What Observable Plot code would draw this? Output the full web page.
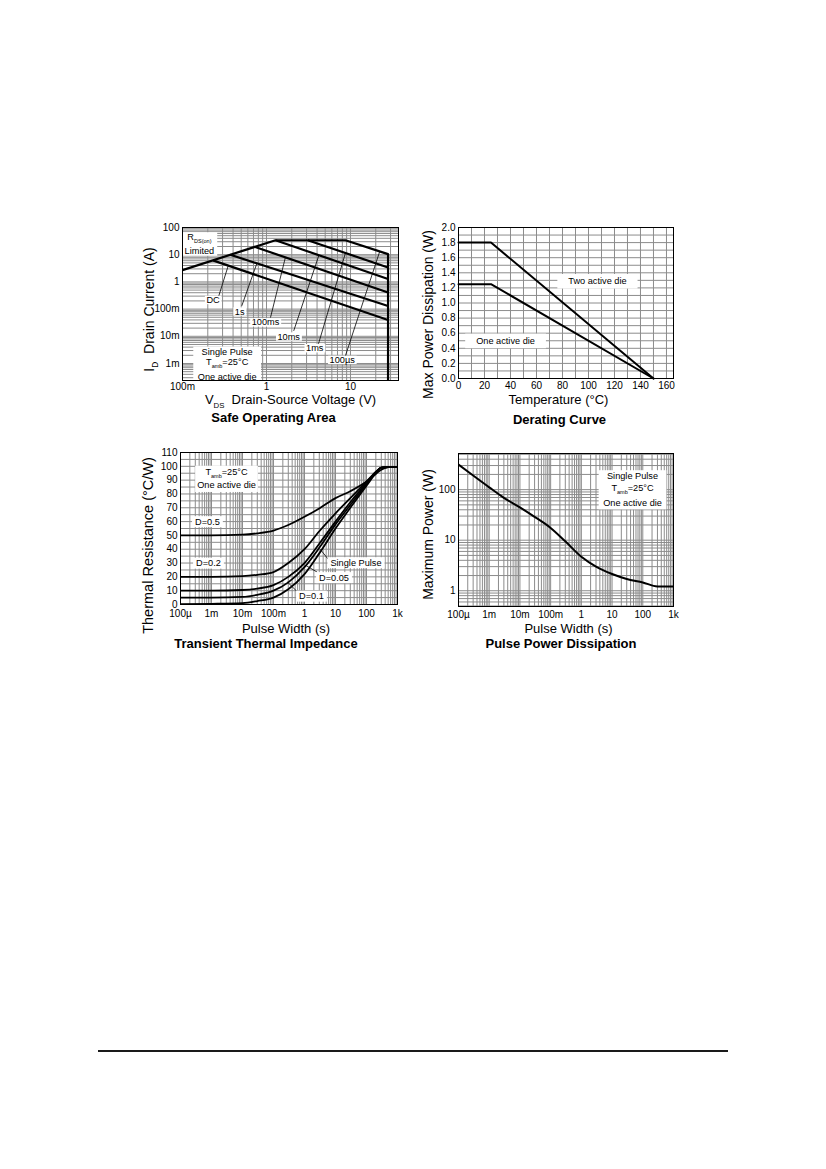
<!DOCTYPE html>
<html><head><meta charset="utf-8">
<script src="https://cdn.jsdelivr.net/npm/d3@7"></script>
<script src="https://cdn.jsdelivr.net/npm/@observablehq/plot@0.6"></script>
<style>
html,body{margin:0;padding:0;background:#fff}
#page{position:relative;width:826px;height:1169px;overflow:hidden;background:#fff}
#page svg{position:absolute}
#rule{position:absolute;left:98px;top:1050px;width:630px;height:0;border-top:2px solid #1a1a1a}
</style></head>
<body><div id="page"><div id="rule"></div></div>
<script>
// ================= DATA =================
// --- Safe Operating Area (VDS in V, ID in A) ---
const soaLimitV = [0.1, 1.28, 8.7, 28, 28];          // RDS(on) limit, current limit, 100µs, voltage limit
const soaLimitI = [2.7, 34, 34, 10.5, 0.0002];
const soaPulseNames = ["1ms", "10ms", "100ms", "1s", "DC"];
const soaPulseV1 = [3.1, 1.28, 0.72, 0.37, 0.23];
const soaPulseI1 = [34, 34, 19.5, 10, 6.2];
const soaPulseV2 = [28, 28, 28, 28, 28];
const soaPulseI2 = [3.4, 1.27, 0.41, 0.13, 0.040];
const soaLabelText = ["DC", "1s", "100ms", "10ms", "1ms", "100µs"];
const soaLabelV = [0.231, 0.48, 0.973, 1.84, 3.75, 7.96];
const soaLabelI = [0.216, 0.081, 0.0322, 0.00975, 0.00362, 0.00135];
const soaLeadV1 = [0.27, 0.508, 1.116, 2.11, 4.16, 8.7];
const soaLeadI1 = [0.30, 0.132, 0.049, 0.0159, 0.0053, 0.00192];
const soaLeadV2 = [0.35, 0.77, 1.68, 4.2, 8.7, 22.3];
const soaLeadI2 = [3.9, 4.9, 8.0, 9.4, 11.4, 13.2];
const soaRdsText = ["R_{DS(on)}", "Limited"];
const soaRdsV = 0.159;
const soaRdsI = [43.6, 13.9];
const soaCondText = ["Single Pulse", "T_{amb}=25°C", "One active die"];
const soaCondV = 0.34;
const soaCondI = [0.00274, 0.00115, 0.000319];
const soaXTicks = [0.1, 1, 10];
const soaXTickLabels = ["100m", "1", "10"];
const soaYTicks = [0.001, 0.01, 0.1, 1, 10, 100];
const soaYTickLabels = ["1m", "10m", "100m", "1", "10", "100"];

// --- Derating Curve ---
const tempC = [0, 25, 150];
const pdTwoDie = [1.8, 1.8, 0];
const pdOneDie = [1.25, 1.25, 0];
const derLabelText = ["Two active die", "One active die"];
const derLabelT = [106.9, 36.2];
const derLabelP = [1.287, 0.497];
const tempTicks = [0, 20, 40, 60, 80, 100, 120, 140, 160];
const pdTicks = [0, 0.2, 0.4, 0.6, 0.8, 1.0, 1.2, 1.4, 1.6, 1.8, 2.0];

// --- Transient Thermal Impedance (°C/W vs pulse width s) ---
const zthT     = [1e-4, 1e-3, 1e-2, 3e-2, 0.1, 0.3, 1, 3, 10, 30, 100, 200, 300, 500, 1000];
const zthD05   = [50, 50, 50.5, 51.5, 53.5, 57.5, 63.5, 69.5, 77, 82, 89, 94.5, 97.5, 99.5, 99.5];
const zthD02   = [20, 20, 20.5, 21.5, 23.5, 30, 40, 53, 66, 77, 89, 96, 99, 99.5, 99.5];
const zthD01   = [10, 10, 10.5, 11.5, 14, 20, 30, 44, 60, 74, 88, 96, 99, 99.5, 99.5];
const zthD005  = [5, 5, 5.5, 7, 10, 16, 27, 41, 58, 72, 87, 95.5, 99, 99.5, 99.5];
const zthSingle= [0.3, 0.5, 1, 2.5, 5, 11, 22, 37, 55, 70, 86, 95, 99, 99.5, 99.5];
const zthLabelText = ["D=0.5", "D=0.2", "Single Pulse", "D=0.05", "D=0.1"];
const zthLabelT = [7.4e-4, 8e-4, 45.8, 8.95, 1.68];
const zthLabelR = [59.9, 29.9, 30.2, 19.4, 6.0];
const zthLeadT1 = [5.9, 2.57, 0.552];
const zthLeadR1 = [32.6, 23.4, 9.8];
const zthLeadT2 = [3.2, 1.08, 0.277];
const zthLeadR2 = [40, 28.4, 16.4];
const zthCondText = ["T_{amb}=25°C", "One active die"];
const zthCondT = 3.05e-3;
const zthCondR = [95.7, 86.1];
const pwTicks = [1e-4, 1e-3, 1e-2, 0.1, 1, 10, 100, 1000];
const pwTickLabels = ["100µ", "1m", "10m", "100m", "1", "10", "100", "1k"];
const zthTicks = [0, 10, 20, 30, 40, 50, 60, 70, 80, 90, 100, 110];

// --- Pulse Power Dissipation (W vs pulse width s) ---
const ppT = [1e-4, 3e-4, 1e-3, 3e-3, 1e-2, 3e-2, 0.1, 0.3, 1, 3, 10, 30, 100, 300, 1000];
const ppP = [313, 190, 111, 69, 44.6, 29, 17.5, 9.5, 4.7, 3.0, 2.14, 1.71, 1.46, 1.22, 1.22];
const ppCondText = ["Single Pulse", "T_{amb}=25°C", "One active die"];
const ppCondT = 46.3;
const ppCondP = [184, 108.6, 53.4];
const ppTicks = [1, 10, 100];
const ppTickLabels = ["1", "10", "100"];

// ================= HELPERS =================
const FONT = "'Liberation Sans', Arial, Helvetica, sans-serif";
const GRID = "#8c8c8c";
const M = {l: 60, t: 12, r: 10, b: 55};
const page = document.getElementById("page");

function logGrid(lo, hi) {
  const out = [];
  for (let e = -6; e <= 4; e++) for (let k = 1; k <= 9; k++) {
    const v = k * Math.pow(10, e);
    if (v >= lo * 0.999 && v <= hi * 1.001) out.push(v);
  }
  return out;
}
const fmtMap = (ticks, labels) => { const m = new Map(ticks.map((t, i) => [t, labels[i]])); return d => m.get(d) ?? ""; };
const rows = (xs, ys, s) => xs.map((x, i) => ({x, y: ys[i], s}));

function subscripts(svg) {
  svg.querySelectorAll("text").forEach(node => {
    const t = node.textContent;
    if (!t.includes("_{")) return;
    const fs = parseFloat(getComputedStyle(node).fontSize) || 10;
    const parts = t.split(/(_\{[^}]*\})/).filter(s => s.length);
    const sel = d3.select(node); sel.text(null);
    let shifted = false;
    parts.forEach(p => {
      if (p.startsWith("_{")) {
        sel.append("tspan").attr("font-size", (fs * 0.6).toFixed(2)).attr("dy", (fs * 0.3).toFixed(2)).text(p.slice(2, -1));
        shifted = true;
      } else {
        const ts = sel.append("tspan").text(p);
        if (shifted) { ts.attr("dy", (-fs * 0.3).toFixed(2)); shifted = false; }
      }
    });
  });
}
function boxes(svg) {
  svg.querySelectorAll("g[aria-description^='box']").forEach(g => {
    const [, px, py, mode] = g.getAttribute("aria-description").split(" ");
    const mk = (b, before, transform) => {
      const r = document.createElementNS("http://www.w3.org/2000/svg", "rect");
      r.setAttribute("x", b.x - +px); r.setAttribute("y", b.y - +py);
      r.setAttribute("width", b.width + 2 * +px); r.setAttribute("height", b.height + 2 * +py);
      r.setAttribute("fill", "white"); r.setAttribute("stroke", "none");
      if (transform) r.setAttribute("transform", transform);
      g.insertBefore(r, before);
    };
    if (mode === "all") mk(g.getBBox(), g.firstChild, null);
    else g.querySelectorAll("text").forEach(t => mk(t.getBBox(), t, t.getAttribute("transform")));
  });
}
function chart(frame, x, y, marks) {
  const w = frame.R - frame.L, h = frame.B - frame.T;
  const svg = Plot.plot({
    width: w + M.l + M.r, height: h + M.t + M.b,
    marginLeft: M.l, marginRight: M.r, marginTop: M.t, marginBottom: M.b,
    x, y,
    style: {fontFamily: FONT, fontSize: "10px", background: "transparent", overflow: "visible", color: "black"},
    marks
  });
  svg.style.left = (frame.L - M.l) + "px";
  svg.style.top = (frame.T - M.t) + "px";
  page.appendChild(svg);
  subscripts(svg);
  boxes(svg);
  return svg;
}
const txt = (s, o) => Plot.text([s], {text: d => d, fill: "black", textAnchor: "middle", lineAnchor: "middle", ...o});
const ylab = (s, dx, dy, fs = 14) => txt(s, {frameAnchor: "left", rotate: -90, dx, dy, fontSize: fs});
const xlab = (s, dx, dy) => txt(s, {frameAnchor: "bottom", dx, dy, fontSize: 13});
const title = (s, dx, dy) => txt(s, {frameAnchor: "bottom", dx, dy, fontSize: 13, fontWeight: "bold"});
const ANN = 9.2;

// ================= SAFE OPERATING AREA =================
{
  const xd = [0.1, 37.3], yd = [2.37e-4, 100];
  const segs = soaPulseNames.map((s, i) => ({s, x1: soaPulseV1[i], y1: soaPulseI1[i], x2: soaPulseV2[i], y2: soaPulseI2[i]}));
  const leads = soaLeadV1.map((v, i) => ({x1: v, y1: soaLeadI1[i], x2: soaLeadV2[i], y2: soaLeadI2[i]}));
  const labels = soaLabelText.map((t, i) => ({t, x: soaLabelV[i], y: soaLabelI[i]}));
  chart({L: 182, R: 398, T: 227, B: 380},
    {type: "log", domain: xd}, {type: "log", domain: yd}, [
    Plot.ruleX(logGrid(...xd), {stroke: GRID, strokeWidth: 1}),
    Plot.ruleY(logGrid(...yd), {stroke: GRID, strokeWidth: 1}),
    Plot.link(leads, {x1: "x1", y1: "y1", x2: "x2", y2: "y2", stroke: "black", strokeWidth: 0.8}),
    Plot.text(labels, {x: "x", y: "y", text: "t", fontSize: ANN, fill: "black", ariaDescription: "box 1.5 -0.8"}),
    Plot.text(soaRdsText, {x: () => soaRdsV, y: (d, i) => soaRdsI[i], text: d => d, fontSize: ANN, fill: "black", ariaDescription: "box 3 0 all"}),
    Plot.text(soaCondText, {x: () => soaCondV, y: (d, i) => soaCondI[i], text: d => d, fontSize: ANN, fill: "black", ariaDescription: "box 4.5 0 all"}),
    Plot.line(rows(soaLimitV, soaLimitI, "limit"), {x: "x", y: "y", stroke: "black", strokeWidth: 2.2, clip: true}),
    Plot.link(segs, {x1: "x1", y1: "y1", x2: "x2", y2: "y2", stroke: "black", strokeWidth: 2.2, clip: true}),
    Plot.frame({stroke: "black", strokeWidth: 1}),
    Plot.axisX(soaXTicks, {tickFormat: fmtMap(soaXTicks, soaXTickLabels), tickSize: 0, tickPadding: 2, label: null}),
    Plot.axisY(soaYTicks, {tickFormat: fmtMap(soaYTicks, soaYTickLabels), tickSize: 0, tickPadding: 3, label: null}),
    ylab("I_{D}\u00a0\u00a0Drain Current (A)", -33, 5.5),
    xlab("V_{DS}\u00a0\u00a0Drain-Source Voltage (V)", 0, 19.5),
    title("Safe Operating Area", -17, 37)
  ]);
}

// ================= DERATING CURVE =================
{
  const xd = [0, 165.4], yd = [0, 2];
  chart({L: 458, R: 673, T: 227, B: 378},
    {domain: xd}, {domain: yd}, [
    Plot.ruleX(d3.range(0, 161, 10), {stroke: GRID, strokeWidth: 1}),
    Plot.ruleY(d3.range(0, 2.0001, 0.1), {stroke: GRID, strokeWidth: 1}),
    Plot.text(derLabelText, {x: (d, i) => derLabelT[i], y: (d, i) => derLabelP[i], text: d => d, fontSize: ANN, fill: "black", ariaDescription: "box 11 2.3"}),
    Plot.line(rows(tempC, pdTwoDie, "two"), {x: "x", y: "y", stroke: "black", strokeWidth: 2}),
    Plot.line(rows(tempC, pdOneDie, "one"), {x: "x", y: "y", stroke: "black", strokeWidth: 2}),
    Plot.frame({stroke: "black", strokeWidth: 1}),
    Plot.axisX(tempTicks, {tickSize: 0, tickPadding: 3, label: null}),
    Plot.axisY(pdTicks, {tickFormat: d3.format(".1f"), tickSize: 0, tickPadding: 3, label: null}),
    ylab("Max Power Dissipation (W)", -30, 11.5),
    xlab("Temperature (°C)", -7.5, 21),
    title("Derating Curve", -6.5, 41.5)
  ]);
}

// ================= TRANSIENT THERMAL IMPEDANCE =================
{
  const xd = [1e-4, 1e3], yd = [0, 110];
  const series = [["D=0.5", zthD05], ["D=0.2", zthD02], ["D=0.1", zthD01], ["D=0.05", zthD005], ["Single Pulse", zthSingle]];
  const data = series.flatMap(([s, v]) => rows(zthT, v, s));
  const labels = zthLabelText.map((t, i) => ({t, x: zthLabelT[i], y: zthLabelR[i]}));
  const leads = zthLeadT1.map((v, i) => ({x1: v, y1: zthLeadR1[i], x2: zthLeadT2[i], y2: zthLeadR2[i]}));
  chart({L: 180, R: 397, T: 452, B: 604},
    {type: "log", domain: xd}, {domain: yd}, [
    Plot.ruleX(logGrid(...xd), {stroke: GRID, strokeWidth: 1}),
    Plot.ruleY(d3.range(0, 111, 5), {stroke: GRID, strokeWidth: 1}),
    Plot.link(leads, {x1: "x1", y1: "y1", x2: "x2", y2: "y2", stroke: "black", strokeWidth: 0.8}),
    Plot.text(labels, {x: "x", y: "y", text: "t", fontSize: ANN, fill: "black", ariaDescription: "box 3 0.5"}),
    Plot.text(zthCondText, {x: () => zthCondT, y: (d, i) => zthCondR[i], text: d => d, fontSize: ANN, fill: "black", ariaDescription: "box 2 1.5 all"}),
    Plot.line(data, {x: "x", y: "y", z: "s", stroke: "black", strokeWidth: 1.8, curve: "monotone-x", clip: true}),
    Plot.frame({stroke: "black", strokeWidth: 1}),
    Plot.axisX(pwTicks, {tickFormat: fmtMap(pwTicks, pwTickLabels), tickSize: 0, tickPadding: 5, label: null}),
    Plot.axisY(zthTicks, {tickSize: 0, tickPadding: 3, label: null}),
    ylab("Thermal Resistance (°C/W)", -32, 17, 14.5),
    xlab("Pulse Width (s)", -3, 24),
    title("Transient Thermal Impedance", -23, 39.5)
  ]);
}

// ================= PULSE POWER DISSIPATION =================
{
  const xd = [1e-4, 1e3], yd = [0.488, 519];
  chart({L: 458, R: 673, T: 453, B: 606},
    {type: "log", domain: xd}, {type: "log", domain: yd}, [
    Plot.ruleX(logGrid(...xd), {stroke: GRID, strokeWidth: 1}),
    Plot.ruleY(logGrid(...yd), {stroke: GRID, strokeWidth: 1}),
    Plot.text(ppCondText, {x: () => ppCondT, y: (d, i) => ppCondP[i], text: d => d, fontSize: ANN, fill: "black", ariaDescription: "box 4.5 1 all"}),
    Plot.line(rows(ppT, ppP, "pp"), {x: "x", y: "y", stroke: "black", strokeWidth: 2, curve: "monotone-x", clip: true}),
    Plot.frame({stroke: "black", strokeWidth: 1}),
    Plot.axisX(pwTicks, {tickFormat: fmtMap(pwTicks, pwTickLabels), tickSize: 0, tickPadding: 4, label: null}),
    Plot.axisY(ppTicks, {tickFormat: fmtMap(ppTicks, ppTickLabels), tickSize: 0, tickPadding: 3, label: null}),
    ylab("Maximum Power (W)", -30, 4.5),
    xlab("Pulse Width (s)", 2.5, 22),
    title("Pulse Power Dissipation", -5, 37.5)
  ]);
}
</script>
</body></html>
